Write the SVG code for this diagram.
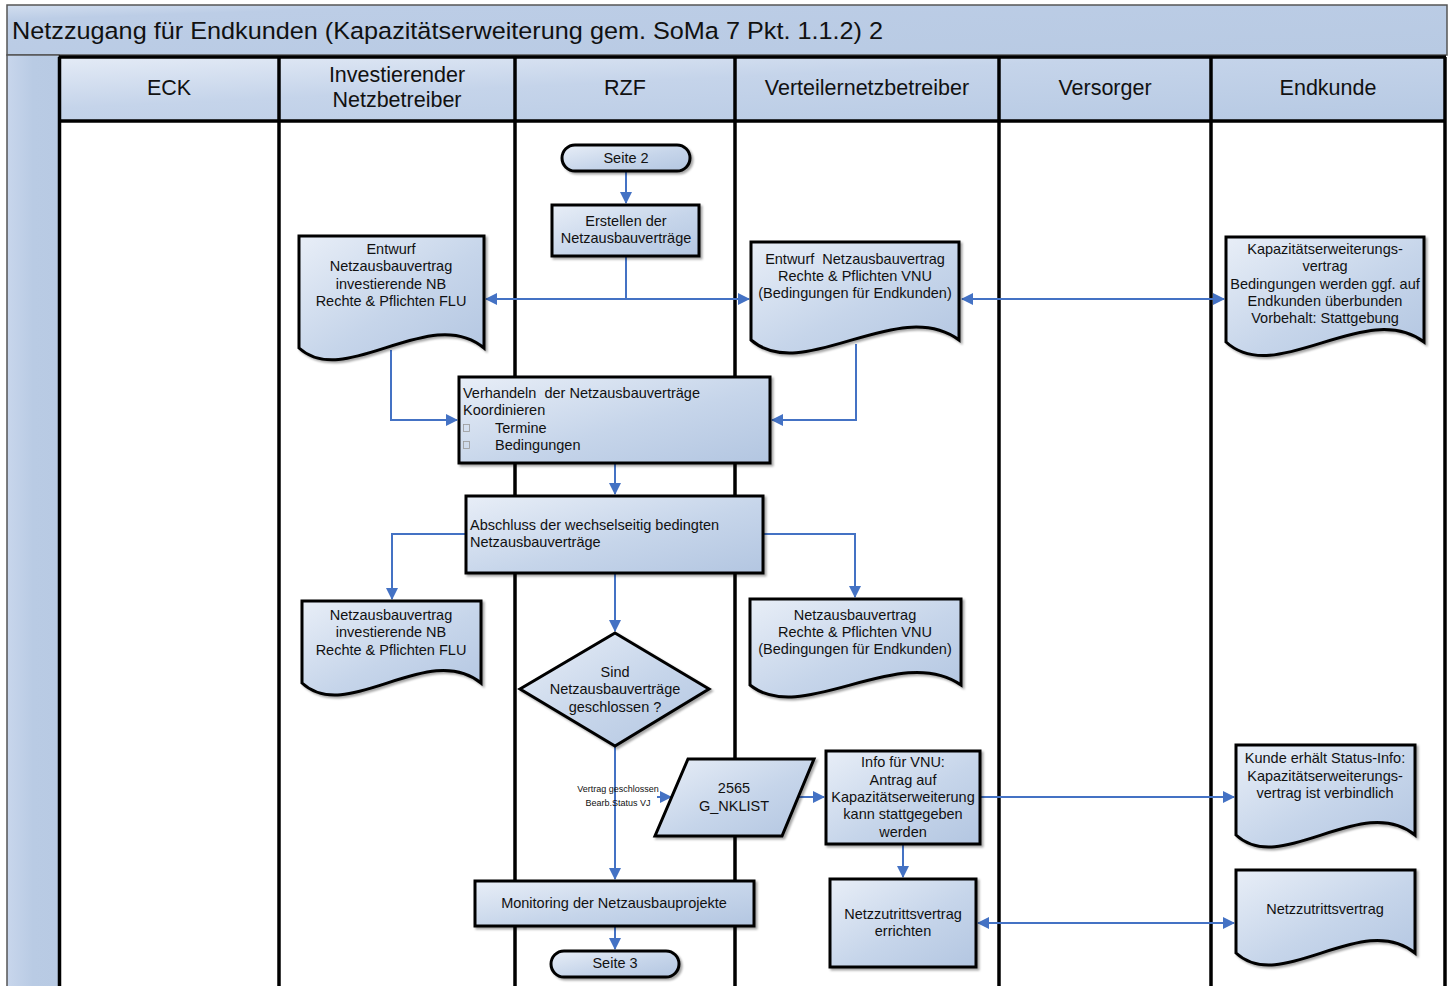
<svg xmlns="http://www.w3.org/2000/svg" width="1455" height="986" viewBox="0 0 1455 986">
<defs>
<linearGradient id="g" x1="0" y1="0" x2="1" y2="1">
<stop offset="0" stop-color="#e8eef7"/>
<stop offset="0.55" stop-color="#c6d5ea"/>
<stop offset="1" stop-color="#b3c6e1"/>
</linearGradient>
<linearGradient id="gh" x1="0" y1="0" x2="1" y2="1">
<stop offset="0" stop-color="#e4ebf6"/>
<stop offset="0.4" stop-color="#c5d4ea"/>
<stop offset="1" stop-color="#b6c9e3"/>
</linearGradient>
<linearGradient id="gt" x1="0" y1="0" x2="1" y2="1">
<stop offset="0" stop-color="#d2deef"/>
<stop offset="0.15" stop-color="#bccde6"/>
<stop offset="1" stop-color="#b8cae3"/>
</linearGradient>
<linearGradient id="gl" x1="0" y1="0" x2="1" y2="0">
<stop offset="0" stop-color="#c8d6ec"/>
<stop offset="0.5" stop-color="#b9cbe4"/>
<stop offset="1" stop-color="#b8cae3"/>
</linearGradient>
<filter id="sh" x="-10%" y="-10%" width="130%" height="130%">
<feDropShadow dx="2" dy="2" stdDeviation="1.2" flood-color="#000" flood-opacity="0.35"/>
</filter>
<marker id="ah" viewBox="0 0 12 12" markerWidth="12" markerHeight="12" refX="11" refY="6" orient="auto-start-reverse" markerUnits="userSpaceOnUse">
<path d="M0,0 L12,6 L0,12 z" fill="#4472c4"/>
</marker>
<style>
.shape{fill:url(#g);stroke:#000;stroke-width:3;filter:url(#sh)}
.t{font-family:"Liberation Sans",Arial,sans-serif;font-size:14.5px;fill:#111;text-anchor:middle;white-space:pre}
.tl{font-family:"Liberation Sans",Arial,sans-serif;font-size:14.5px;fill:#111;white-space:pre}
.hd{font-family:"Liberation Sans",Arial,sans-serif;font-size:21.5px;fill:#111;text-anchor:middle}
.sm{font-family:"Liberation Sans",Arial,sans-serif;font-size:9px;fill:#111;text-anchor:middle}
.bx{fill:none;stroke:#999;stroke-width:0.8}
.c{fill:none;stroke:#4472c4;stroke-width:2}
.lane{stroke:#000;stroke-width:3.5}
</style>
</defs>

<g id="pool">
<rect x="7" y="5" width="1440" height="50" fill="url(#gt)" stroke="#555" stroke-width="1.5"/>
<text x="12" y="39" font-family="Liberation Sans, Arial, sans-serif" font-size="24.5" fill="#111" textLength="871" lengthAdjust="spacingAndGlyphs">Netzzugang für Endkunden (Kapazitätserweiterung gem. SoMa 7 Pkt. 1.1.2) 2</text>
<rect x="7" y="55" width="52" height="935" fill="url(#gl)" stroke="#555" stroke-width="1.5"/>
<rect x="59" y="57" width="1386" height="64" fill="url(#gh)"/>
<rect x="59" y="121" width="1386" height="870" fill="#fff"/>
<line x1="59" y1="57" x2="1446" y2="57" class="lane"/>
<line x1="59" y1="121" x2="1446" y2="121" class="lane"/>
<line x1="59.5" y1="57" x2="59.5" y2="986" class="lane"/>
<line x1="279" y1="57" x2="279" y2="986" class="lane"/>
<line x1="515" y1="57" x2="515" y2="986" class="lane"/>
<line x1="735" y1="57" x2="735" y2="986" class="lane"/>
<line x1="999" y1="57" x2="999" y2="986" class="lane"/>
<line x1="1211" y1="57" x2="1211" y2="986" class="lane"/>
<line x1="1445" y1="57" x2="1445" y2="986" class="lane"/>
<text class="hd" x="169" y="95">ECK</text>
<text class="hd" x="397" y="82">Investierender</text>
<text class="hd" x="397" y="107">Netzbetreiber</text>
<text class="hd" x="625" y="95">RZF</text>
<text class="hd" x="867" y="95">Verteilernetzbetreiber</text>
<text class="hd" x="1105" y="95">Versorger</text>
<text class="hd" x="1328" y="95">Endkunde</text>
</g>

<g id="connectors">
<path class="c" d="M626,171 V203" marker-end="url(#ah)"/>
<path class="c" d="M626,256 V299 H486" marker-end="url(#ah)"/>
<path class="c" d="M626,299 H749" marker-end="url(#ah)"/>
<path class="c" d="M962,299 H1224" marker-start="url(#ah)" marker-end="url(#ah)"/>
<path class="c" d="M391,350 V420 H457" marker-end="url(#ah)"/>
<path class="c" d="M856,344 V420 H772" marker-end="url(#ah)"/>
<path class="c" d="M615,463 V494" marker-end="url(#ah)"/>
<path class="c" d="M466,534 H392 V599" marker-end="url(#ah)"/>
<path class="c" d="M763,534 H855 V597" marker-end="url(#ah)"/>
<path class="c" d="M615,573 V631" marker-end="url(#ah)"/>
<path class="c" d="M615,746 V879" marker-end="url(#ah)"/>
<path class="c" d="M657,797 H671" marker-end="url(#ah)"/>
<path class="c" d="M798,797 H824" marker-end="url(#ah)"/>
<path class="c" d="M903,844 V877" marker-end="url(#ah)"/>
<path class="c" d="M980,797 H1234" marker-end="url(#ah)"/>
<path class="c" d="M978,923 H1234" marker-start="url(#ah)" marker-end="url(#ah)"/>
<path class="c" d="M615,926 V949" marker-end="url(#ah)"/>
<text class="sm" x="618" y="792">Vertrag geschlossen</text>
<text class="sm" x="618" y="806">Bearb.Status VJ</text>
</g>

<g id="seite2">
<rect class="shape" x="562" y="145" width="128" height="26" rx="13"/>
<text class="t" x="626" y="163">Seite 2</text>
</g>

<g id="erstellen">
<rect class="shape" x="552" y="205" width="147" height="51"/>
<text class="t" x="626" y="226">Erstellen der</text>
<text class="t" x="626" y="243">Netzausbauverträge</text>
</g>

<g id="entwurf-nb">
<path class="shape" d="M299,236 H484 V348 C430,303 345,390 299,348 Z"/>
<text class="t" x="391" y="254">Entwurf</text>
<text class="t" x="391" y="271">Netzausbauvertrag</text>
<text class="t" x="391" y="289">investierende NB</text>
<text class="t" x="391" y="306">Rechte &amp; Pflichten FLU</text>
</g>

<g id="entwurf-vnu">
<path class="shape" d="M751,242 H959 V340 C898,295 803,385 751,340 Z"/>
<text class="t" x="855" y="264">Entwurf  Netzausbauvertrag</text>
<text class="t" x="855" y="281">Rechte &amp; Pflichten VNU</text>
<text class="t" x="855" y="298">(Bedingungen für Endkunden)</text>
</g>

<g id="kapazitaet">
<path class="shape" d="M1226,237 H1424 V342 C1366,298 1276,388 1226,342 Z"/>
<text class="t" x="1325" y="254">Kapazitätserweiterungs-</text>
<text class="t" x="1325" y="271">vertrag</text>
<text class="t" x="1325" y="289">Bedingungen werden ggf. auf</text>
<text class="t" x="1325" y="306">Endkunden überbunden</text>
<text class="t" x="1325" y="323">Vorbehalt: Stattgebung</text>
</g>

<g id="verhandeln">
<rect class="shape" x="459" y="377" width="311" height="86"/>
<text class="tl" x="463" y="398">Verhandeln  der Netzausbauverträge</text>
<text class="tl" x="463" y="415">Koordinieren</text>
<rect class="bx" x="463.5" y="424.5" width="6" height="7"/>
<text class="tl" x="495" y="433">Termine</text>
<rect class="bx" x="463.5" y="441.5" width="6" height="7"/>
<text class="tl" x="495" y="450">Bedingungen</text>
</g>

<g id="abschluss">
<rect class="shape" x="466" y="496" width="297" height="77"/>
<text class="tl" x="470" y="530">Abschluss der wechselseitig bedingten</text>
<text class="tl" x="470" y="547">Netzausbauverträge</text>
</g>

<g id="vertrag-nb">
<path class="shape" d="M302,601 H481 V683 C428,640 347,725 302,683 Z"/>
<text class="t" x="391" y="620">Netzausbauvertrag</text>
<text class="t" x="391" y="637">investierende NB</text>
<text class="t" x="391" y="655">Rechte &amp; Pflichten FLU</text>
</g>

<g id="vertrag-vnu">
<path class="shape" d="M750,599 H961 V685 C899,642 802,727 750,685 Z"/>
<text class="t" x="855" y="620">Netzausbauvertrag</text>
<text class="t" x="855" y="637">Rechte &amp; Pflichten VNU</text>
<text class="t" x="855" y="654">(Bedingungen für Endkunden)</text>
</g>

<g id="entscheidung">
<path class="shape" d="M615,633 L709,689 L615,746 L520,689 Z"/>
<text class="t" x="615" y="677">Sind</text>
<text class="t" x="615" y="694">Netzausbauverträge</text>
<text class="t" x="615" y="712">geschlossen ?</text>
</g>

<g id="g-nklist">
<path class="shape" d="M688,759 H814 L782,836 H655 Z"/>
<text class="t" x="734" y="793">2565</text>
<text class="t" x="734" y="811">G_NKLIST</text>
</g>

<g id="info-vnu">
<rect class="shape" x="826" y="751" width="154" height="93"/>
<text class="t" x="903" y="767">Info für VNU:</text>
<text class="t" x="903" y="785">Antrag auf</text>
<text class="t" x="903" y="802">Kapazitätserweiterung</text>
<text class="t" x="903" y="819">kann stattgegeben</text>
<text class="t" x="903" y="837">werden</text>
</g>

<g id="kunde-info">
<path class="shape" d="M1236,745 H1415 V835 C1362,792 1281,877 1236,835 Z"/>
<text class="t" x="1325" y="763">Kunde erhält Status-Info:</text>
<text class="t" x="1325" y="781">Kapazitätserweiterungs-</text>
<text class="t" x="1325" y="798">vertrag ist verbindlich</text>
</g>

<g id="errichten">
<rect class="shape" x="830" y="879" width="146" height="88"/>
<text class="t" x="903" y="919">Netzzutrittsvertrag</text>
<text class="t" x="903" y="936">errichten</text>
</g>

<g id="netzzutrittsvertrag">
<path class="shape" d="M1236,870 H1415 V953 C1362,910 1281,995 1236,953 Z"/>
<text class="t" x="1325" y="914">Netzzutrittsvertrag</text>
</g>

<g id="monitoring">
<rect class="shape" x="475" y="881" width="279" height="45"/>
<text class="t" x="614" y="908">Monitoring der Netzausbauprojekte</text>
</g>

<g id="seite3">
<rect class="shape" x="551" y="951" width="128" height="26" rx="13"/>
<text class="t" x="615" y="968">Seite 3</text>
</g>
</svg>
